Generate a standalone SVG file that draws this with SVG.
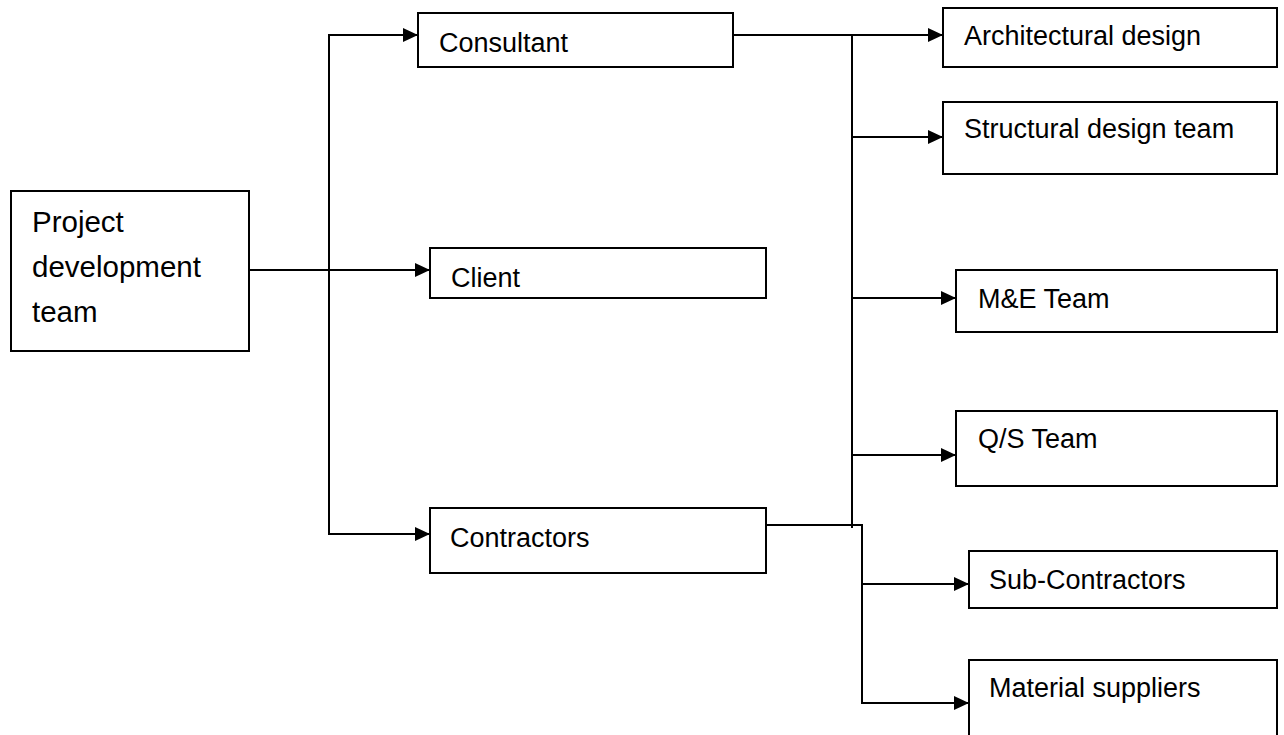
<svg xmlns="http://www.w3.org/2000/svg" width="1284" height="735" viewBox="0 0 1284 735">
<style>
.box{fill:#fff;stroke:#000;stroke-width:2}
.lbl{font-family:"Liberation Sans",Arial,sans-serif;font-size:27px;fill:#000}
.big{font-size:29.5px}
.con{fill:none;stroke:#000;stroke-width:2}
</style>
<defs>
<marker id="arr" viewBox="0 0 15 14" refX="15" refY="7" markerWidth="15" markerHeight="14" markerUnits="userSpaceOnUse" orient="auto">
<path d="M0,0 L15,7 L0,14 z" fill="#000"/>
</marker>
</defs>
<rect width="1284" height="735" fill="#fff"/>
<g id="connectors">
<path class="con" d="M249,270 H430" marker-end="url(#arr)"/>
<path class="con" d="M329,270 V35 H418" marker-end="url(#arr)"/>
<path class="con" d="M329,270 V534 H430" marker-end="url(#arr)"/>
<path class="con" d="M733,35 H943" marker-end="url(#arr)"/>
<path class="con" d="M852,35 V528"/>
<path class="con" d="M852,137 H943" marker-end="url(#arr)"/>
<path class="con" d="M852,298 H956" marker-end="url(#arr)"/>
<path class="con" d="M852,455 H956" marker-end="url(#arr)"/>
<path class="con" d="M766,525 H862 V703 H969" marker-end="url(#arr)"/>
<path class="con" d="M862,584 H969" marker-end="url(#arr)"/>
</g>
<g id="project">
<rect class="box" x="11" y="191" width="238" height="160"/>
<text class="lbl big" x="32" y="232">Project</text>
<text class="lbl big" x="32" y="277">development</text>
<text class="lbl big" x="32" y="322">team</text>
</g>
<g id="consultant">
<rect class="box" x="418" y="13" width="315" height="54"/>
<text class="lbl" x="439" y="52">Consultant</text>
</g>
<g id="client">
<rect class="box" x="430" y="248" width="336" height="50"/>
<text class="lbl" x="451" y="287">Client</text>
</g>
<g id="contractors">
<rect class="box" x="430" y="508" width="336" height="65"/>
<text class="lbl" x="450" y="547">Contractors</text>
</g>
<g id="architectural">
<rect class="box" x="943" y="8" width="334" height="59"/>
<text class="lbl" x="964" y="45">Architectural design</text>
</g>
<g id="structural">
<rect class="box" x="943" y="102" width="334" height="72"/>
<text class="lbl" x="964" y="138">Structural design team</text>
</g>
<g id="me">
<rect class="box" x="956" y="270" width="321" height="62"/>
<text class="lbl" x="978" y="308">M&amp;E Team</text>
</g>
<g id="qs">
<rect class="box" x="956" y="411" width="321" height="75"/>
<text class="lbl" x="978" y="448">Q/S Team</text>
</g>
<g id="subcontractors">
<rect class="box" x="969" y="551" width="308" height="57"/>
<text class="lbl" x="989" y="589">Sub-Contractors</text>
</g>
<g id="material">
<rect class="box" x="969" y="660" width="308" height="90"/>
<text class="lbl" x="989" y="697">Material suppliers</text>
</g>
</svg>
